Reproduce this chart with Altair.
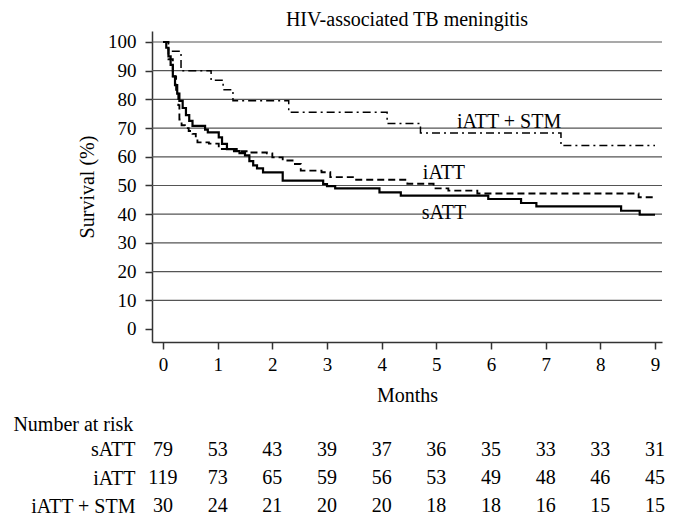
import altair as alt
import pandas as pd

FONT = "Liberation Serif"

groups = ["sATT", "iATT", "iATT + STM"]

# Kaplan-Meier step points (month, survival %)
satt_t = [0, 0.06, 0.1, 0.14, 0.18, 0.22, 0.26, 0.3, 0.36, 0.42, 0.48, 0.54, 0.77, 0.82, 1.02, 1.08, 1.17, 1.3, 1.4, 1.5, 1.58, 1.65, 1.72, 1.83, 2.19, 2.93, 3.0, 3.15, 3.96, 4.35, 5.95, 6.55, 6.83, 8.38, 8.72, 9.0]
satt_s = [100, 98, 95, 92, 88, 85, 82, 79.5, 77, 74.5, 72.5, 70.8, 69.5, 68.5, 66.8, 64.5, 62.7, 62, 61.3, 60.5, 58.5, 57, 56, 54.6, 51.7, 50.5, 49.8, 49, 47.6, 46.5, 45.3, 43.9, 42.7, 41.2, 39.8, 39.8]

iatt_t = [0, 0.1, 0.18, 0.24, 0.28, 0.3, 0.34, 0.4, 0.47, 0.54, 0.6, 0.63, 0.84, 1.02, 1.35, 1.53, 1.9, 2.0, 2.19, 2.37, 2.52, 2.9, 3.06, 3.51, 4.47, 4.95, 5.22, 5.75, 8.7, 9.0]
iatt_s = [100, 94, 88, 82, 78, 73, 71, 70, 69, 68, 66.8, 65, 64.6, 62.7, 62, 61.5, 61.2, 59.8, 58.7, 57.5, 55.2, 54.6, 52.9, 52, 50.6, 49, 48.2, 47.2, 45.9, 45.9]

stm_t = [0, 0.1, 0.33, 0.88, 1.1, 1.28, 2.3, 4.1, 4.71, 7.28, 9.0]
stm_s = [100, 96.8, 90, 86.7, 83.4, 79.5, 75.5, 71.6, 68.3, 63.9, 63.9]

# Number at risk
risk_months = [0, 1, 2, 3, 4, 5, 6, 7, 8, 9]
risk_satt = [79, 53, 43, 39, 37, 36, 35, 33, 33, 31]
risk_iatt = [119, 73, 65, 59, 56, 53, 49, 48, 46, 45]
risk_stm = [30, 24, 21, 20, 20, 18, 18, 16, 15, 15]

# Curve labels
label_text = ["iATT + STM", "iATT", "sATT"]
label_x = [6.33, 5.14, 5.14]
label_y = [72.0, 54.4, 40.5]

grid_vals = [10, 20, 30, 40, 50, 60, 70, 80, 90, 100]
x_ticks = list(range(10))
y_ticks = list(range(0, 101, 10))

rows = []
for g, ts, ss in zip(groups, [satt_t, iatt_t, stm_t], [satt_s, iatt_s, stm_s]):
    for t, s in zip(ts, ss):
        rows.append({"group": g, "month": t, "surv": s})
curves = pd.DataFrame(rows)

risk_rows = []
for g, vals in zip(groups, [risk_satt, risk_iatt, risk_stm]):
    for m, n in zip(risk_months, vals):
        risk_rows.append({"group": g, "month": m, "n": n})
risk = pd.DataFrame(risk_rows)

labels = pd.DataFrame({"text": label_text, "month": label_x, "surv": label_y})
grid = pd.DataFrame({"surv": grid_vals})

W = 510
x_scale = alt.Scale(domain=[-0.201, 9.128], nice=False, zero=False)
y_scale = alt.Scale(domain=[-4.53, 103.83], nice=False, zero=False)

x_axis = alt.Axis(values=x_ticks, title="Months", grid=False, tickSize=7,
                  labelPadding=6, titlePadding=11, labelFontSize=19, titleFontSize=20)
y_axis = alt.Axis(values=y_ticks, title="Survival (%)", grid=False, tickSize=7,
                  labelPadding=9, titlePadding=10, labelFontSize=19, titleFontSize=20)

rules = alt.Chart(grid).mark_rule(color="#555555", strokeWidth=1.2).encode(
    y=alt.Y("surv:Q", scale=y_scale, axis=y_axis)
)

lines = alt.Chart(curves).mark_line(interpolate="step-after", color="black").encode(
    x=alt.X("month:Q", scale=x_scale, axis=x_axis),
    y=alt.Y("surv:Q", scale=y_scale, axis=y_axis),
    strokeDash=alt.StrokeDash("group:N", scale=alt.Scale(domain=groups, range=[[1, 0], [7, 4], [8, 4, 2, 4]]), legend=None),
    strokeWidth=alt.StrokeWidth("group:N", scale=alt.Scale(domain=groups, range=[2.2, 1.5, 1.8]), legend=None),
)

texts = alt.Chart(labels).mark_text(font=FONT, fontSize=20, color="black", baseline="middle", align="center").encode(
    x=alt.X("month:Q", scale=x_scale, axis=x_axis),
    y=alt.Y("surv:Q", scale=y_scale, axis=y_axis),
    text="text:N",
)

top = alt.layer(rules, lines, texts).properties(
    width=W, height=311,
    title=alt.TitleParams("HIV-associated TB meningitis", fontSize=20, font=FONT,
                          fontWeight="normal", offset=1, anchor="middle", color="black"),
)

table = alt.Chart(risk).mark_text(font=FONT, fontSize=20, color="black", baseline="middle", align="center").encode(
    x=alt.X("month:Q", scale=x_scale, axis=None),
    y=alt.Y("group:N", sort=groups, scale=alt.Scale(domain=groups, padding=0.2),
            axis=alt.Axis(title=None, ticks=False, domain=False, labelFontSize=20,
                          labelPadding=17, labelColor="black")),
    text="n:Q",
).properties(
    width=W, height=68,
    title=alt.TitleParams("Number at risk", fontSize=20, font=FONT, fontWeight="normal",
                          anchor="start", frame="bounds", dx=-17, offset=5, color="black"),
)

chart = alt.vconcat(top, table, spacing=9).properties(
    padding={"left": 5, "top": 2, "right": 0, "bottom": 0}
).configure_view(stroke=None).configure_axis(
    labelFont=FONT, titleFont=FONT, labelColor="black", titleColor="black",
    titleFontWeight="normal", domainColor="#333333", tickColor="#333333",
    domainWidth=1.5, tickWidth=1.5,
).configure_text(font=FONT)

chart.save("out.html", embed_options={"renderer": "svg", "actions": False})
